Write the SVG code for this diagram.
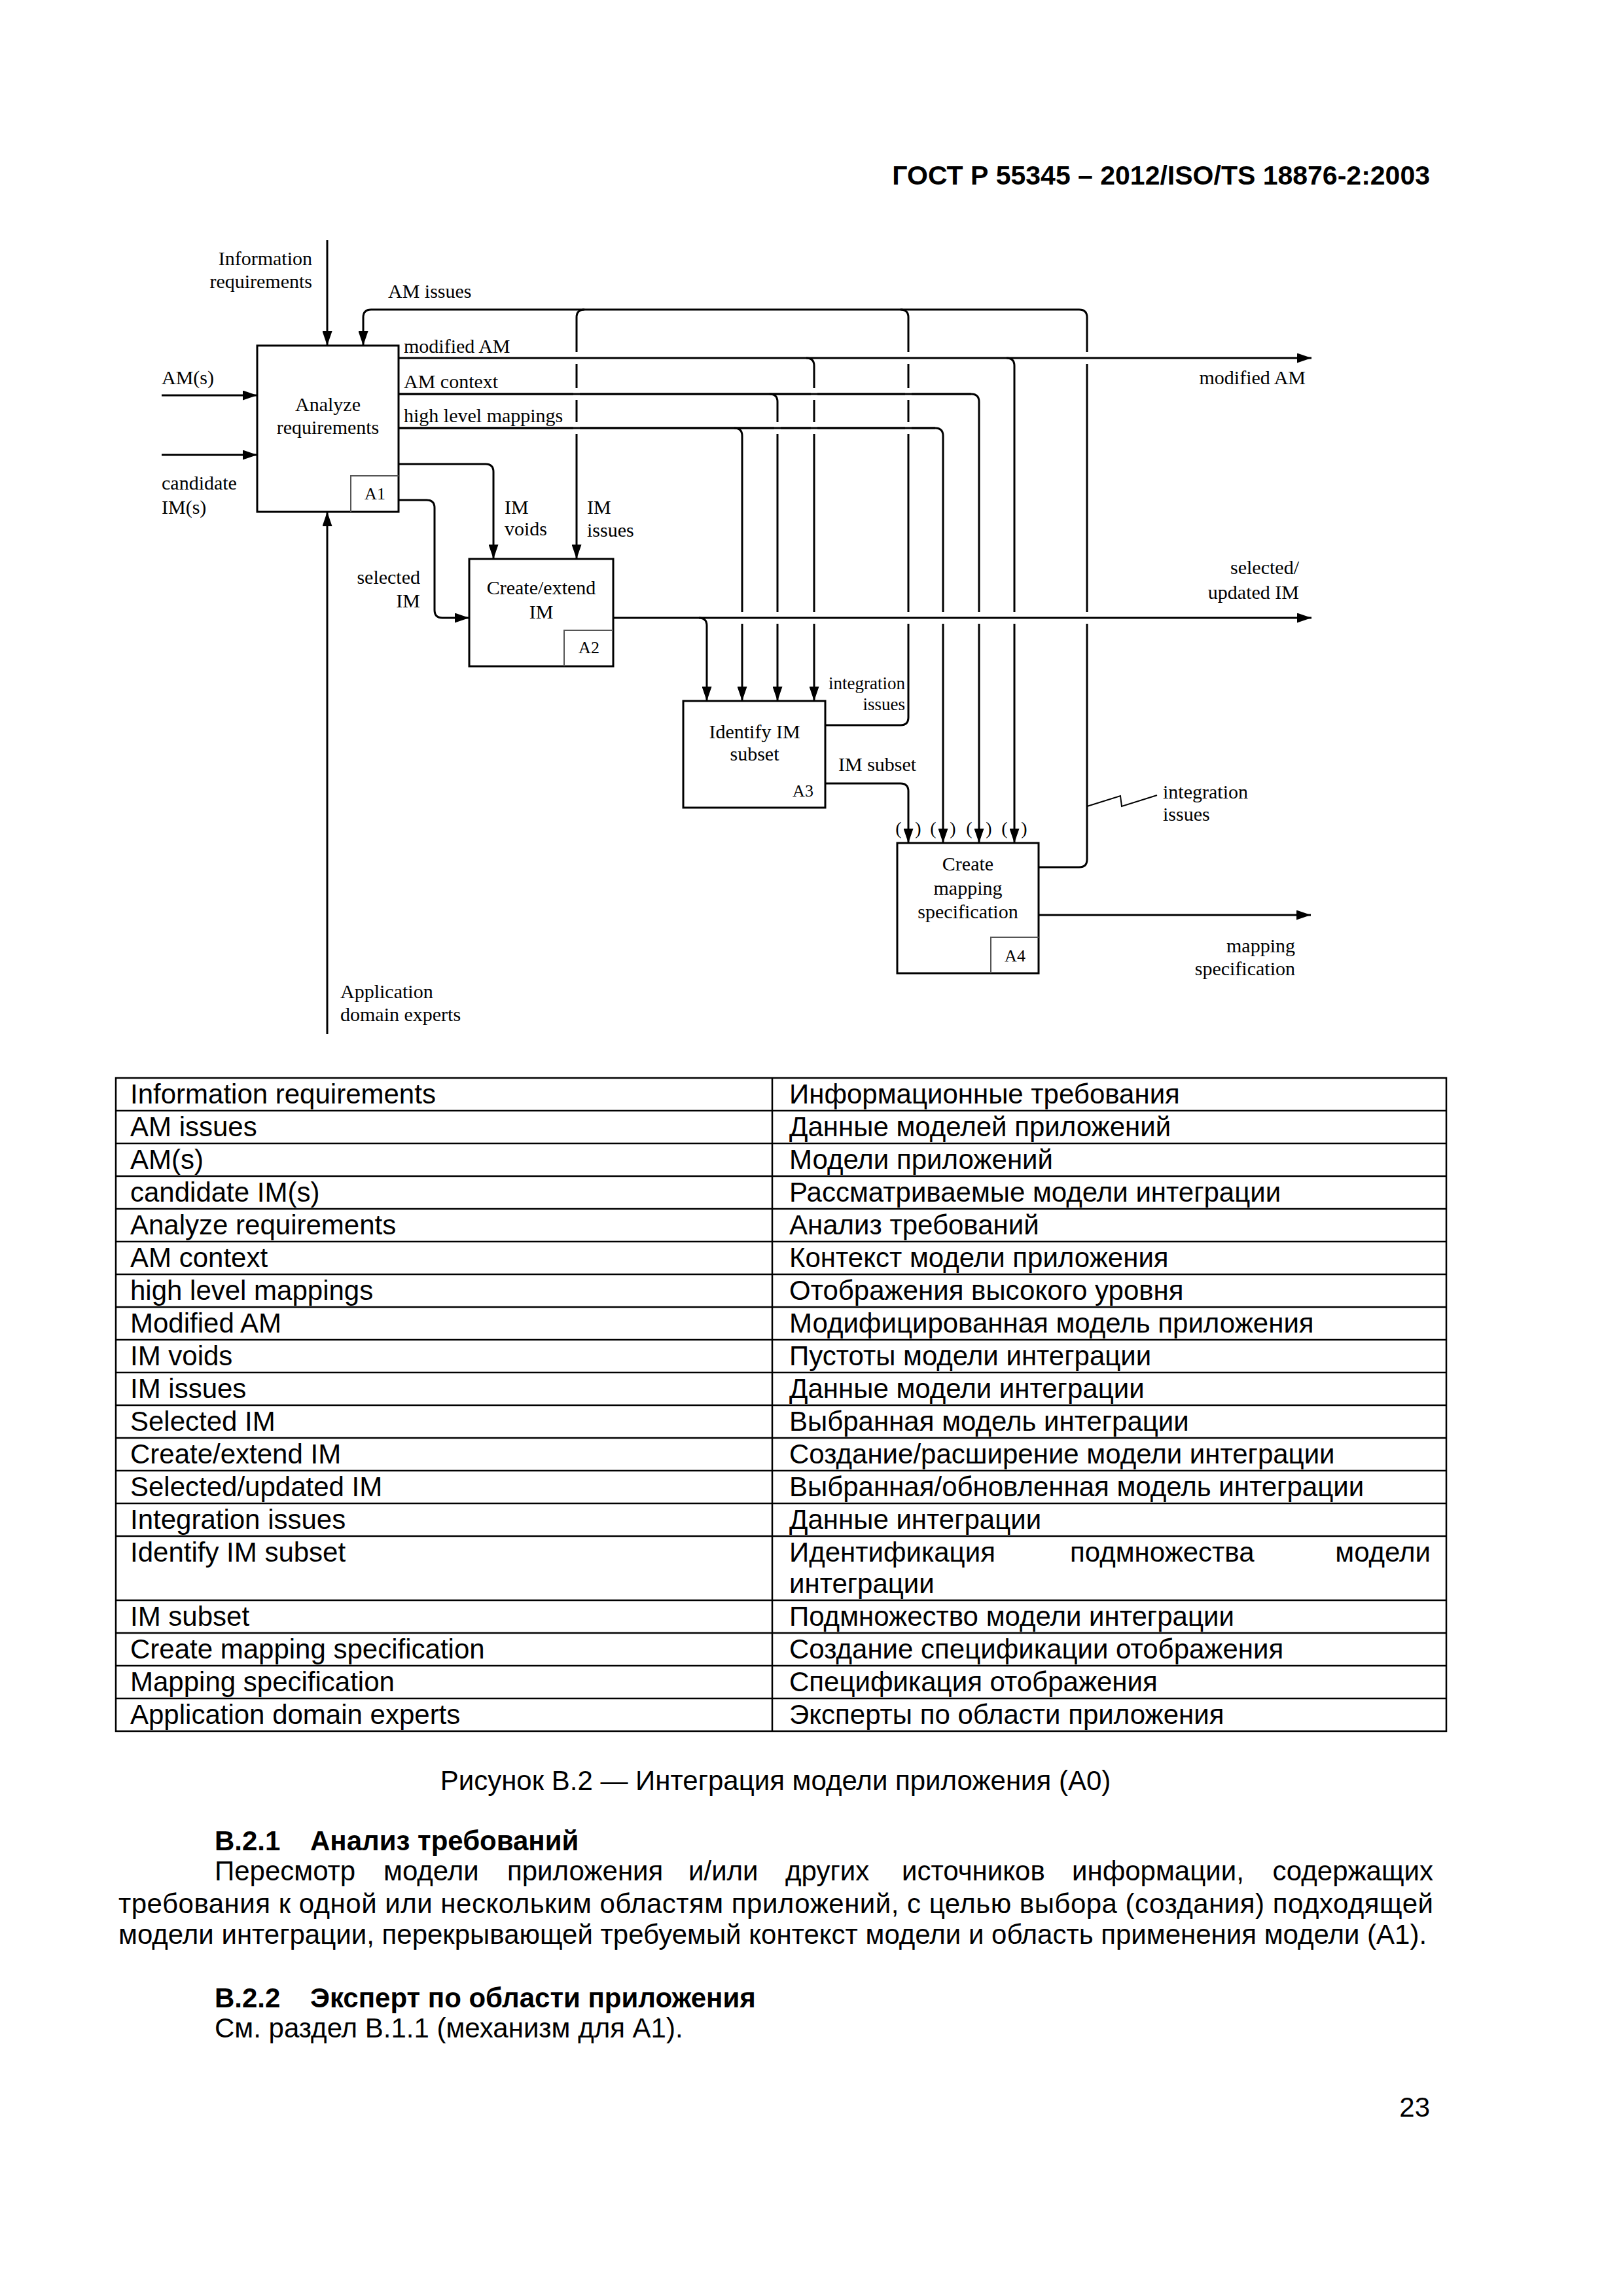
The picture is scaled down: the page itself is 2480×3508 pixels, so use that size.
<svg xmlns="http://www.w3.org/2000/svg" width="2480" height="3508" viewBox="0 0 2480 3508">
<style>
.box{fill:#fff;stroke:#000;stroke-width:3}
.tag{fill:none;stroke:#555;stroke-width:2}
.c{fill:none;stroke:#000;stroke-width:3}
.z{fill:none;stroke:#000;stroke-width:2}
.t{font-family:"Liberation Serif","Times New Roman",serif;font-size:30px;fill:#000}
.s{font-size:26px}
.m{text-anchor:middle}
.e{text-anchor:end}
.a{font-family:"Liberation Sans",Arial,sans-serif;font-size:42px;fill:#000}
.b{font-weight:bold}
.tl{stroke:#000;stroke-width:2.5}
</style>
<defs>
<marker id="ah" markerUnits="userSpaceOnUse" markerWidth="22" markerHeight="15" refX="22" refY="7.5" orient="auto"><path d="M0,0 L22,7.5 L0,15 z" fill="#000"/></marker>
</defs>
<rect width="2480" height="3508" fill="#fff"/>
<text class="a b e" x="2185" y="282" style="font-size:41px">ГОСТ Р 55345 – 2012/ISO/TS 18876-2:2003</text>

<g id="A1">
<rect class="box" x="393" y="528" width="216" height="254"/>
<path class="tag" d="M536,782 V727 H609"/>
<text class="t m" x="501" y="628">Analyze</text>
<text class="t m" x="501" y="663">requirements</text>
<text class="t s m" x="573" y="763">A1</text>
</g>
<g id="A2">
<rect class="box" x="717" y="854" width="220" height="164"/>
<path class="tag" d="M862,1018 V963 H937"/>
<text class="t m" x="827" y="908">Create/extend</text>
<text class="t m" x="827" y="945">IM</text>
<text class="t s m" x="900" y="998">A2</text>
</g>
<g id="A3">
<rect class="box" x="1044" y="1071" width="217" height="163"/>
<text class="t m" x="1153" y="1128">Identify IM</text>
<text class="t m" x="1153" y="1162">subset</text>
<text class="t s m" x="1227" y="1217">A3</text>
</g>
<g id="A4">
<rect class="box" x="1371" y="1288" width="216" height="199"/>
<path class="tag" d="M1514,1487 V1432 H1587"/>
<text class="t m" x="1479" y="1330">Create</text>
<text class="t m" x="1479" y="1367">mapping</text>
<text class="t m" x="1479" y="1403">specification</text>
<text class="t s m" x="1551" y="1469">A4</text>
</g>

<g id="connectors">
<path class="c" d="M500,367 V528" marker-end="url(#ah)"/>
<path class="c" d="M247,604 H393" marker-end="url(#ah)"/>
<path class="c" d="M247,695 H393" marker-end="url(#ah)"/>
<path class="c" d="M500,1580 V782" marker-end="url(#ah)"/>
<path class="c" d="M1232,547 Q1244,547 1244,559 V1071" marker-end="url(#ah)"/>
<path class="c" d="M1538,547 Q1550,547 1550,559 V1288" marker-end="url(#ah)"/>
<path class="c" d="M609,602 H1484 Q1496,602 1496,614 V1288" marker-end="url(#ah)"/>
<path class="c" d="M1176,602 Q1188,602 1188,614 V1071" marker-end="url(#ah)"/>
<path class="c" d="M609,654 H1429 Q1441,654 1441,666 V1288" marker-end="url(#ah)"/>
<path class="c" d="M1122,654 Q1134,654 1134,666 V1071" marker-end="url(#ah)"/>
<path class="c" d="M609,709 H742 Q754,709 754,721 V854" marker-end="url(#ah)"/>
<path class="c" d="M609,764 H652 Q664,764 664,776 V932 Q664,944 676,944 H717" marker-end="url(#ah)"/>
<path class="c" d="M1068,944 Q1080,944 1080,956 V1071" marker-end="url(#ah)"/>
<path class="c" d="M1261,1197 H1376 Q1388,1197 1388,1209 V1288" marker-end="url(#ah)"/>
<path class="c" d="M1261,1108 H1376 Q1388,1108 1388,1096 V485 Q1388,473 1376,473"/>
<path class="c" d="M1587,1325 H1649 Q1661,1325 1661,1313 V485 Q1661,473 1649,473 H567 Q555,473 555,485 V528" marker-end="url(#ah)"/>
<path class="c" d="M893,473 Q881,473 881,485 V854" marker-end="url(#ah)"/>
<path class="c" d="M1587,1398 H2003" marker-end="url(#ah)"/>
<g fill="#fff">
<rect x="876" y="538" width="10" height="18"/><rect x="876" y="593" width="10" height="18"/><rect x="876" y="645" width="10" height="18"/>
<rect x="1129" y="935" width="10" height="18"/>
<rect x="1183" y="645" width="10" height="18"/><rect x="1183" y="935" width="10" height="18"/>
<rect x="1239" y="593" width="10" height="18"/><rect x="1239" y="645" width="10" height="18"/><rect x="1239" y="935" width="10" height="18"/>
<rect x="1383" y="538" width="10" height="18"/><rect x="1383" y="593" width="10" height="18"/><rect x="1383" y="645" width="10" height="18"/><rect x="1383" y="935" width="10" height="18"/>
<rect x="1436" y="935" width="10" height="18"/>
<rect x="1491" y="935" width="10" height="18"/>
<rect x="1545" y="935" width="10" height="18"/>
<rect x="1656" y="538" width="10" height="18"/><rect x="1656" y="935" width="10" height="18"/>
</g>
<path class="c" d="M609,547 H2004" marker-end="url(#ah)"/>
<path class="c" d="M937,944 H2004" marker-end="url(#ah)"/>
<path class="c" d="M609,602 H1484 M609,654 H1429"/>
<path class="z" d="M1661,1232 L1712,1216 L1714,1232 L1768,1215"/>
</g>

<g id="labels">
<text class="t e" x="477" y="405">Information</text>
<text class="t e" x="477" y="440">requirements</text>
<text class="t" x="593" y="455">AM issues</text>
<text class="t" x="617" y="539">modified AM</text>
<text class="t" x="617" y="593">AM context</text>
<text class="t" x="617" y="645">high level mappings</text>
<text class="t" x="247" y="587">AM(s)</text>
<text class="t" x="247" y="748">candidate</text>
<text class="t" x="247" y="785">IM(s)</text>
<text class="t" x="771" y="785">IM</text>
<text class="t" x="771" y="818">voids</text>
<text class="t" x="897" y="785">IM</text>
<text class="t" x="897" y="820">issues</text>
<text class="t e" x="642" y="892">selected</text>
<text class="t e" x="642" y="928">IM</text>
<text class="t e" x="1995" y="587">modified AM</text>
<text class="t e" x="1985" y="877">selected/</text>
<text class="t e" x="1985" y="915">updated IM</text>
<text class="t e" x="1383" y="1053" style="font-size:27px">integration</text>
<text class="t e" x="1383" y="1085" style="font-size:27px">issues</text>
<text class="t" x="1281" y="1178">IM subset</text>
<text class="t" x="1777" y="1220">integration</text>
<text class="t" x="1777" y="1254">issues</text>
<text class="t e" x="1979" y="1455">mapping</text>
<text class="t e" x="1979" y="1490">specification</text>
<text class="t" x="520" y="1525">Application</text>
<text class="t" x="520" y="1560">domain experts</text>
<g class="t m" style="font-size:28px">
<text x="1373" y="1275">(</text><text x="1403" y="1275">)</text>
<text x="1426" y="1275">(</text><text x="1456" y="1275">)</text>
<text x="1481" y="1275">(</text><text x="1511" y="1275">)</text>
<text x="1535" y="1275">(</text><text x="1565" y="1275">)</text>
</g>
</g>

<g id="table">
<rect x="177" y="1647" width="2033" height="998" fill="none" class="tl"/>
<path class="tl" d="M1180,1647 V2645 M177,1697 H2210 M177,1747 H2210 M177,1797 H2210 M177,1847 H2210 M177,1897 H2210 M177,1947 H2210 M177,1997 H2210 M177,2047 H2210 M177,2097 H2210 M177,2147 H2210 M177,2197 H2210 M177,2247 H2210 M177,2297 H2210 M177,2347 H2210 M177,2445 H2210 M177,2495 H2210 M177,2545 H2210 M177,2595 H2210"/>
<g class="a">
<text x="199" y="1686">Information requirements</text><text x="1206" y="1686">Информационные требования</text>
<text x="199" y="1736">AM issues</text><text x="1206" y="1736">Данные моделей приложений</text>
<text x="199" y="1786">AM(s)</text><text x="1206" y="1786">Модели приложений</text>
<text x="199" y="1836">candidate IM(s)</text><text x="1206" y="1836">Рассматриваемые модели интеграции</text>
<text x="199" y="1886">Analyze requirements</text><text x="1206" y="1886">Анализ требований</text>
<text x="199" y="1936">AM context</text><text x="1206" y="1936">Контекст модели приложения</text>
<text x="199" y="1986">high level mappings</text><text x="1206" y="1986">Отображения высокого уровня</text>
<text x="199" y="2036">Modified AM</text><text x="1206" y="2036">Модифицированная модель приложения</text>
<text x="199" y="2086">IM voids</text><text x="1206" y="2086">Пустоты модели интеграции</text>
<text x="199" y="2136">IM issues</text><text x="1206" y="2136">Данные модели интеграции</text>
<text x="199" y="2186">Selected IM</text><text x="1206" y="2186">Выбранная модель интеграции</text>
<text x="199" y="2236">Create/extend IM</text><text x="1206" y="2236">Создание/расширение модели интеграции</text>
<text x="199" y="2286">Selected/updated IM</text><text x="1206" y="2286">Выбранная/обновленная модель интеграции</text>
<text x="199" y="2336">Integration issues</text><text x="1206" y="2336">Данные интеграции</text>
<text x="199" y="2386">Identify IM subset</text><text x="1206" y="2386">Идентификация</text><text x="1635" y="2386">подмножества</text><text x="2186" y="2386" text-anchor="end">модели</text>
<text x="1206" y="2434">интеграции</text>
<text x="199" y="2484">IM subset</text><text x="1206" y="2484">Подмножество модели интеграции</text>
<text x="199" y="2534">Create mapping specification</text><text x="1206" y="2534">Создание спецификации отображения</text>
<text x="199" y="2584">Mapping specification</text><text x="1206" y="2584">Спецификация отображения</text>
<text x="199" y="2634">Application domain experts</text><text x="1206" y="2634">Эксперты по области приложения</text>
</g>
</g>

<g id="body" class="a">
<text x="1185" y="2735" text-anchor="middle">Рисунок В.2 — Интеграция модели приложения (А0)</text>
<text class="b" x="328" y="2827">В.2.1</text><text class="b" x="474" y="2827">Анализ требований</text>
<text x="328" y="2873">Пересмотр</text><text x="586" y="2873">модели</text><text x="775" y="2873">приложения</text><text x="1052" y="2873">и/или</text><text x="1200" y="2873">других</text><text x="1378" y="2873">источников</text><text x="1638" y="2873">информации,</text><text x="2190" y="2873" text-anchor="end">содержащих</text>
<text x="181" y="2923" textLength="2009" lengthAdjust="spacing">требования к одной или нескольким областям приложений, с целью выбора (создания) подходящей</text>
<text x="181" y="2970">модели интеграции, перекрывающей требуемый контекст модели и область применения модели (А1).</text>
<text class="b" x="328" y="3067">В.2.2</text><text class="b" x="474" y="3067">Эксперт по области приложения</text>
<text x="328" y="3113">См. раздел В.1.1 (механизм для А1).</text>
<text x="2185" y="3234" text-anchor="end">23</text>
</g>
</svg>
